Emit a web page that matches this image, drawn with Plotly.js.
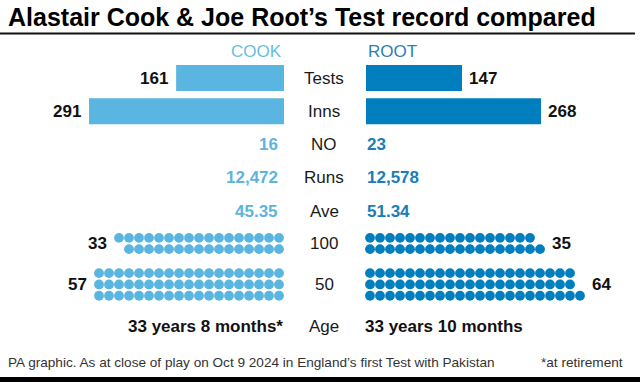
<!DOCTYPE html>
<html>
<head>
<meta charset="utf-8">
<script src="https://cdn.plot.ly/plotly-3.0.1.min.js"></script>
<style>html,body{margin:0;padding:0;background:#fff}</style>
</head>
<body>
<div id="chart" style="width:640px;height:382px"></div>
<script>
// ---- data ----
const categories = ['Tests', 'Inns', 'NO', 'Runs', 'Ave', '100', '50', 'Age'];
const players = ['COOK', 'ROOT'];
const cookBars = [161, 291];      // Tests, Inns
const rootBars = [147, 268];
const cookStats = [16, 12472, 45.35];   // NO, Runs, Ave
const rootStats = [23, 12578, 51.34];
const cookHundreds = 33, rootHundreds = 35;
const cookFifties = 57, rootFifties = 64;
const cookAge = '33 years 8 months*';
const rootAge = '33 years 10 months';
const title = 'Alastair Cook & Joe Root\u2019s Test record compared';
const footLeft = 'PA graphic. As at close of play on Oct 9 2024 in England\u2019s first Test with Pakistan';
const footRight = '*at retirement';

// ---- style ----
const W = 640, H = 382;
const FONT = 'Liberation Sans, Arial, sans-serif';
const cookCol = '#5ab6e0', rootCol = '#007ebe';
const cookText = '#5eb4dc', rootText = '#1a7db5';
const rowY = [0, 1, 2, 3, 4, 4.97, 6.2, 7.47];   // row layout (row units)
const rowPx = 33.3, firstRowPx = 78;               // pixel mapping of rows
const subPitch = 11.3 / rowPx;                      // dot row spacing

function fmt(v, i) {
  if (i === 1) return v.toLocaleString('en-GB');
  if (i === 2) return v.toFixed(2);
  return String(v);
}

// dots laid out in columns of `rows`, remainder placed in top or bottom row
function dotGrid(count, rows, rowCenter, extraAtTop) {
  const full = Math.floor(count / rows), rem = count % rows;
  const xs = [], ys = [];
  for (let c = 0; c < full; c++) for (let r = 0; r < rows; r++) {
    xs.push(c + 0.5); ys.push(rowCenter + (r - (rows - 1) / 2) * subPitch);
  }
  for (let k = 0; k < rem; k++) {
    const r = extraAtTop ? k : rows - 1 - k;
    xs.push(full + 0.5); ys.push(rowCenter + (r - (rows - 1) / 2) * subPitch);
  }
  return {xs, ys, ncol: full + (rem ? 1 : 0)};
}

const c100 = dotGrid(cookHundreds, 2, rowY[5], true);
const r100 = dotGrid(rootHundreds, 2, rowY[5], false);
const c50 = dotGrid(cookFifties, 3, rowY[6], true);
const r50 = dotGrid(rootFifties, 3, rowY[6], false);

const traces = [
  {type: 'bar', orientation: 'h', x: cookBars, y: rowY.slice(0, 2), width: 0.78,
   marker: {color: cookCol}, xaxis: 'x', yaxis: 'y', hoverinfo: 'skip'},
  {type: 'bar', orientation: 'h', x: rootBars, y: rowY.slice(0, 2), width: 0.78,
   marker: {color: rootCol}, xaxis: 'x2', yaxis: 'y', hoverinfo: 'skip'},
  {type: 'scatter', mode: 'markers', x: c100.xs.concat(c50.xs), y: c100.ys.concat(c50.ys),
   marker: {size: 9.8, color: cookCol}, xaxis: 'x3', yaxis: 'y', hoverinfo: 'skip', cliponaxis: false},
  {type: 'scatter', mode: 'markers', x: r100.xs.concat(r50.xs), y: r100.ys.concat(r50.ys),
   marker: {size: 9.8, color: rootCol}, xaxis: 'x4', yaxis: 'y', hoverinfo: 'skip', cliponaxis: false}
];

const ann = [];
const A = (o) => ann.push(Object.assign({showarrow: false, yref: 'y', font: {family: FONT, size: 17, color: '#111'}}, o));

// headers
A({xref: 'x', x: 0, y: -0.81, text: players[0], xanchor: 'right', font: {family: FONT, size: 17, color: '#66bee3'}});
A({xref: 'x2', x: 0, y: -0.81, text: players[1], xanchor: 'left', font: {family: FONT, size: 17, color: '#2a80b5'}});

// row labels
categories.forEach((c, i) => A({xref: 'paper', x: 324 / W, y: rowY[i], text: c, xanchor: 'center',
  font: {family: FONT, size: 17, color: '#1a1a1a'}}));

// bar values
cookBars.forEach((v, i) => A({xref: 'x', x: v, y: rowY[i], text: '<b>' + v + '</b>', xanchor: 'right', xshift: -6}));
rootBars.forEach((v, i) => A({xref: 'x2', x: v, y: rowY[i], text: '<b>' + v + '</b>', xanchor: 'left', xshift: 5}));

// stat values
cookStats.forEach((v, i) => A({xref: 'x', x: 0, y: rowY[i + 2], text: '<b>' + fmt(v, i) + '</b>', xanchor: 'right', xshift: -4,
  font: {family: FONT, size: 17, color: cookText}}));
rootStats.forEach((v, i) => A({xref: 'x2', x: 0, y: rowY[i + 2], text: '<b>' + fmt(v, i) + '</b>', xanchor: 'left', xshift: -1,
  font: {family: FONT, size: 17, color: rootText}}));

// dot counts
A({xref: 'x3', x: c100.ncol + 0.5, y: rowY[5], text: '<b>' + cookHundreds + '</b>', xanchor: 'right'});
A({xref: 'x4', x: r100.ncol + 0.5, y: rowY[5], text: '<b>' + rootHundreds + '</b>', xanchor: 'left'});
A({xref: 'x3', x: c50.ncol + 0.5, y: rowY[6], text: '<b>' + cookFifties + '</b>', xanchor: 'right'});
A({xref: 'x4', x: r50.ncol + 0.5, y: rowY[6], text: '<b>' + rootFifties + '</b>', xanchor: 'left'});

// ages
A({xref: 'x', x: 0, y: rowY[7], text: '<b>' + cookAge + '</b>', xanchor: 'right', xshift: 1});
A({xref: 'x2', x: 0, y: rowY[7], text: '<b>' + rootAge + '</b>', xanchor: 'left', xshift: -3});

// footer
ann.push({xref: 'paper', yref: 'paper', x: 6 / W, y: 1 - 362 / H, xanchor: 'left', yanchor: 'middle', showarrow: false,
  text: footLeft, font: {family: FONT, size: 13.6, color: '#333'}});
ann.push({xref: 'paper', yref: 'paper', x: 625 / W, y: 1 - 362 / H, xanchor: 'right', yanchor: 'middle', showarrow: false,
  text: footRight, font: {family: FONT, size: 13.6, color: '#333'}});

const yTop = -firstRowPx / rowPx, yBot = (H - firstRowPx) / rowPx;
const layout = {
  width: W, height: H,
  margin: {l: 0, r: 0, t: 0, b: 0, pad: 0},
  paper_bgcolor: '#fff', plot_bgcolor: 'rgba(0,0,0,0)',
  showlegend: false,
  title: {text: '<b>' + title + '</b>', x: 8 / W, xanchor: 'left', xref: 'paper', y: 1 - 17 / H, yanchor: 'middle',
    font: {family: FONT, size: 25, color: '#000'}},
  xaxis: {domain: [0, 284 / W], range: [284 / 0.670, 0], visible: false, fixedrange: true, anchor: 'y'},
  xaxis2: {domain: [366 / W, 1], range: [0, 274 / 0.653], visible: false, fixedrange: true, anchor: 'y'},
  xaxis3: {domain: [0, 284 / W], range: [28.4, 0], visible: false, fixedrange: true, anchor: 'y'},
  xaxis4: {domain: [365 / W, 1], range: [0, 27.5], visible: false, fixedrange: true, anchor: 'y'},
  yaxis: {domain: [0, 1], range: [yBot, yTop], visible: false, fixedrange: true, anchor: 'x'},
  shapes: [
    {type: 'line', xref: 'paper', yref: 'paper', x0: 0, x1: 635 / W, y0: 1 - 33.5 / H, y1: 1 - 33.5 / H,
     line: {color: '#111', width: 2}},
    {type: 'rect', xref: 'paper', yref: 'paper', x0: 0, x1: 1, y0: 0, y1: 5 / H,
     fillcolor: '#000', line: {width: 0}}
  ],
  annotations: ann
};

Plotly.newPlot('chart', traces, layout, {staticPlot: true, displayModeBar: false});
</script>
</body>
</html>
